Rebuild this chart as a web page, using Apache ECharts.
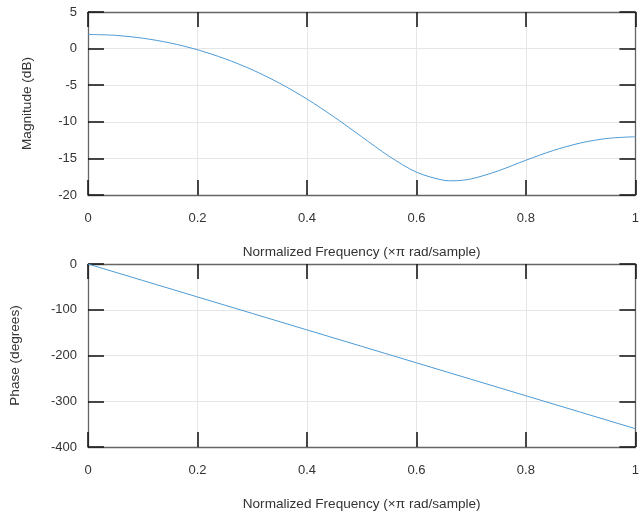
<!DOCTYPE html>
<html>
<head>
<meta charset="utf-8">
<script src="https://cdn.jsdelivr.net/npm/echarts@6/dist/echarts.min.js"></script>
<style>
html,body{margin:0;padding:0;background:#fff;}
#chart{width:642px;height:512px;}
</style>
</head>
<body>
<div id="chart"></div>
<script>
// Values
const magFreq = [0, 0.05, 0.1, 0.15, 0.2, 0.25, 0.3, 0.35, 0.4, 0.45, 0.5, 0.55, 0.6, 0.65, 0.667, 0.7, 0.75, 0.8, 0.85, 0.9, 0.95, 1];
const magDb   = [1.94, 1.81, 1.42, 0.77, -0.16, -1.38, -2.89, -4.73, -6.89, -9.36, -12.04, -14.70, -16.88, -17.99, -18.06, -17.80, -16.69, -15.25, -13.92, -12.89, -12.26, -12.04];
const phaseFreq = [0, 0.1, 0.2, 0.3, 0.4, 0.5, 0.6, 0.7, 0.8, 0.9, 1];
const phaseDeg  = [0, -36, -72, -108, -144, -180, -216, -252, -288, -324, -360];
const xTicks = [0, 0.2, 0.4, 0.6, 0.8, 1];
const magTicks = [-20, -15, -10, -5, 0, 5];
const phaseTicks = [-400, -300, -200, -100, 0];
const xName = 'Normalized Frequency (×π rad/sample)';
const magName = 'Magnitude (dB)';
const phaseName = 'Phase (degrees)';

const FONT = 'Liberation Sans';
const txt = '#333';
const lineCol = '#666';
const tickCol = '#1a1a1a';
const gridCol = '#e6e6e6';

function xAx(gi, primary) {
  return {
    type: 'value', gridIndex: gi, min: xTicks[0], max: xTicks[xTicks.length-1], interval: xTicks[1]-xTicks[0],
    position: primary ? 'bottom' : 'top',
    name: primary ? xName : '', nameLocation: 'middle', nameGap: 50,
    nameTextStyle: {fontFamily: FONT, fontSize: 13.6, color: txt},
    axisLine: {show: true, onZero: false, lineStyle: {color: lineCol, width: 1.3}},
    axisTick: {show: true, inside: true, length: 15, lineStyle: {color: tickCol, width: 1.6}},
    axisLabel: {show: primary, margin: 17, fontFamily: FONT, fontSize: 13, color: txt},
    splitLine: {show: primary, lineStyle: {color: gridCol, width: 1}}
  };
}
function yAx(gi, primary, ticks, name, gap) {
  return {
    type: 'value', gridIndex: gi, min: ticks[0], max: ticks[ticks.length-1], interval: ticks[1]-ticks[0],
    position: primary ? 'left' : 'right',
    name: primary ? name : '', nameLocation: 'middle', nameGap: gap,
    nameTextStyle: {fontFamily: FONT, fontSize: 13.6, color: txt},
    axisLine: {show: true, onZero: false, lineStyle: {color: lineCol, width: 1.3}},
    axisTick: {show: true, inside: true, length: 16, lineStyle: {color: tickCol, width: 1.6}},
    axisLabel: {show: primary, margin: 11, fontFamily: FONT, fontSize: 13, color: txt},
    splitLine: {show: primary, lineStyle: {color: gridCol, width: 1}}
  };
}

const chart = echarts.init(document.getElementById('chart'), null, {renderer: 'canvas'});
chart.setOption({
  animation: false,
  backgroundColor: '#fff',
  grid: [
    {left: 88, right: 4, top: 12, height: 183},
    {left: 88, right: 4, top: 264, height: 183}
  ],
  xAxis: [xAx(0, true), xAx(0, false), xAx(1, true), xAx(1, false)],
  yAxis: [yAx(0, true, magTicks, magName, 54), yAx(0, false, magTicks, '', 0),
          yAx(1, true, phaseTicks, phaseName, 66), yAx(1, false, phaseTicks, '', 0)],
  series: [
    {type: 'line', xAxisIndex: 0, yAxisIndex: 0, data: magFreq.map((f, i) => [f, magDb[i]]),
     smooth: 0.3, showSymbol: false, lineStyle: {color: '#4d9bd6', width: 1}},
    {type: 'line', xAxisIndex: 2, yAxisIndex: 2, data: phaseFreq.map((f, i) => [f, phaseDeg[i]]),
     showSymbol: false, lineStyle: {color: '#4d9bd6', width: 1}}
  ]
});
</script>
</body>
</html>
